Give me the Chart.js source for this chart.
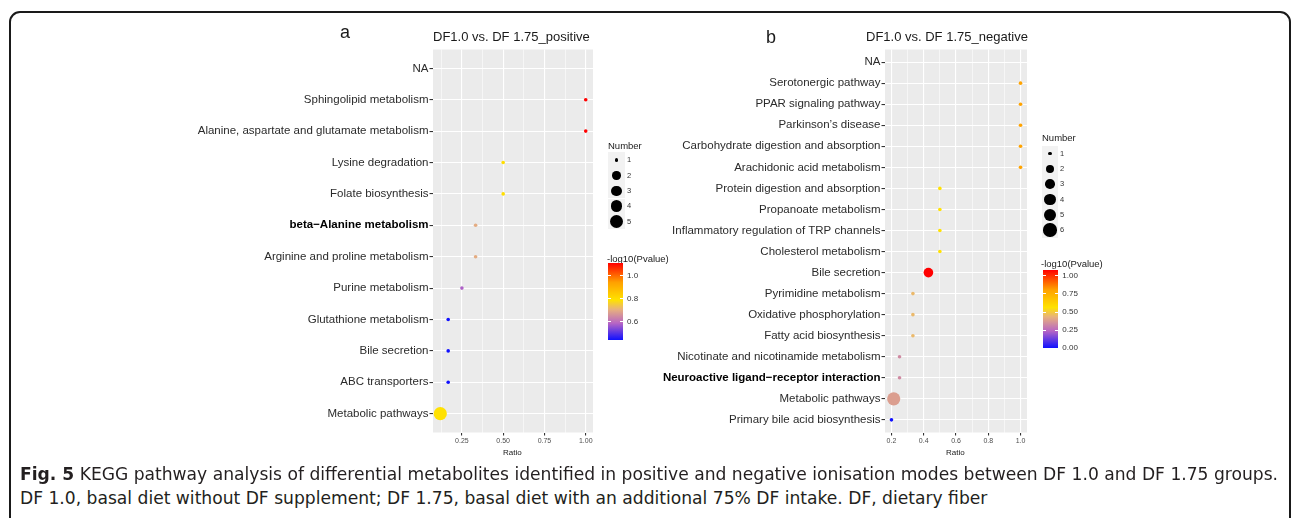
<!DOCTYPE html>
<html lang="en">
<head>
<meta charset="UTF-8">
<meta name="viewport" content="width=device-width, initial-scale=1.0">
<title>Fig. 5 KEGG pathway analysis</title>
<script src="https://cdn.jsdelivr.net/npm/chart.js"></script>
<style>
  body { margin: 0; background: #fff; font-family: "Liberation Sans", Arial, sans-serif; }
  .page { position: relative; width: 1292px; height: 518px; overflow: hidden; }
  .frame { position: absolute; left: 9px; top: 11px; width: 1278px; height: 640px; border: 2px solid #1a1a1a; border-radius: 11px; }
  .panel { position: absolute; top: 0; }
  .t { position: absolute; white-space: nowrap; line-height: 1; color: #1a1a1a; }
  .key { position: absolute; background: #f2f2f2; }
  .dot { position: absolute; background: #000; border-radius: 50%; }
  .bar { position: absolute; }
  .tick { position: absolute; height: 1px; background: #fff; }
  .caption { position: absolute; left: 20px; white-space: nowrap; font-size: 17px; line-height: 1; color: #231f20;
             transform-origin: 0 0; font-family: "Liberation Sans Narrow", "DejaVu Sans Condensed", "Liberation Sans", sans-serif; }
</style>
</head>
<body>
<div class="page" id="page">
  <div class="frame"></div>
  <canvas class="panel" id="chartPos" width="646" height="470" style="left:0"></canvas>
  <canvas class="panel" id="chartNeg" width="646" height="470" style="left:646px"></canvas>

  <div class="t" style="left:340px; top:23px; font-size:18px">a</div>
  <div class="t" style="left:433px; top:29.5px; font-size:13px">DF1.0 vs. DF 1.75_positive</div>
  <div class="t" style="left:766px; top:27.5px; font-size:18px">b</div>
  <div class="t" style="left:866px; top:29.5px; font-size:13px">DF1.0 vs. DF 1.75_negative</div>

  <div class="caption" id="cap1" style="top:465.5px"><b>Fig. 5</b> KEGG pathway analysis of differential metabolites identified in positive and negative ionisation modes between DF 1.0 and DF 1.75 groups.</div>
  <div class="caption" id="cap2" style="top:489.5px">DF 1.0, basal diet without DF supplement; DF 1.75, basal diet with an additional 75% DF intake. DF, dietary fiber</div>
</div>

<script>
// Panel a: positive ionisation mode (top to bottom)
const pathwaysPos = ['NA', 'Sphingolipid metabolism', 'Alanine, aspartate and glutamate metabolism',
    'Lysine degradation', 'Folate biosynthesis', 'beta\u2212Alanine metabolism',
    'Arginine and proline metabolism', 'Purine metabolism', 'Glutathione metabolism',
    'Bile secretion', 'ABC transporters', 'Metabolic pathways'];
const ratioPos  = [null, 1.0, 1.0, 0.5, 0.5, 0.333, 0.333, 0.25, 0.167, 0.167, 0.167, 0.119];
const numberPos = [null, 1, 1, 1, 1, 1, 1, 1, 1, 1, 1, 5];
const logPPos   = [null, 1.116, 1.116, 0.80, 0.80, 0.70, 0.70, 0.58, 0.44, 0.44, 0.44, 0.79];
const boldPos   = ['beta\u2212Alanine metabolism'];
const ratioTicksPos = [0.25, 0.5, 0.75, 1.0];
const pTicksPos = [0.6, 0.8, 1.0];

// Panel b: negative ionisation mode (top to bottom)
const pathwaysNeg = ['NA', 'Serotonergic pathway', 'PPAR signaling pathway', 'Parkinson\u2019s disease',
    'Carbohydrate digestion and absorption', 'Arachidonic acid metabolism',
    'Protein digestion and absorption', 'Propanoate metabolism',
    'Inflammatory regulation of TRP channels', 'Cholesterol metabolism', 'Bile secretion',
    'Pyrimidine metabolism', 'Oxidative phosphorylation', 'Fatty acid biosynthesis',
    'Nicotinate and nicotinamide metabolism', 'Neuroactive ligand\u2212receptor interaction',
    'Metabolic pathways', 'Primary bile acid biosynthesis'];
const ratioNeg  = [null, 1, 1, 1, 1, 1, 0.5, 0.5, 0.5, 0.5, 0.429, 0.333, 0.333, 0.333, 0.25, 0.25, 0.214, 0.2];
const numberNeg = [null, 1, 1, 1, 1, 1, 1, 1, 1, 1, 3, 1, 1, 1, 1, 1, 6, 1];
const logPNeg   = [null, 0.80, 0.80, 0.80, 0.80, 0.80, 0.56, 0.56, 0.56, 0.56, 1.08, 0.45, 0.45, 0.45, 0.33, 0.33, 0.38, 0.0];
const boldNeg   = ['Neuroactive ligand\u2212receptor interaction'];
const ratioTicksNeg = [0.2, 0.4, 0.6, 0.8, 1.0];
const pTicksNeg = [0, 0.25, 0.5, 0.75, 1.0];

// colour gradient used for -log10(Pvalue)
const gradStops = [[0, '#1010ff'], [0.22, '#b866c4'], [0.4, '#e8b27c'], [0.52, '#ffe200'], [0.75, '#ffa000'], [1, '#ff0000']];

function hexToRgb(h) { return [1, 3, 5].map(i => parseInt(h.substr(i, 2), 16)); }
function gradColor(f) {
    f = Math.max(0, Math.min(1, f));
    for (let i = 1; i < gradStops.length; i++) {
        const [f0, c0] = gradStops[i - 1], [f1, c1] = gradStops[i];
        if (f <= f1) {
            const t = (f - f0) / (f1 - f0), a = hexToRgb(c0), b = hexToRgb(c1);
            return 'rgb(' + a.map((v, k) => Math.round(v + (b[k] - v) * t)).join(',') + ')';
        }
    }
    return gradStops[gradStops.length - 1][1];
}
function sizeFor(n, maxN) { return 1.8 + 4.8 * Math.sqrt((n - 1) / (maxN - 1)); }
const clean = arr => arr.filter(v => v != null);

const bgPlugin = {
    id: 'panelBg',
    beforeDraw(chart) {
        const { ctx, chartArea: a } = chart;
        ctx.save();
        ctx.fillStyle = '#ebebeb';
        ctx.fillRect(a.left, a.top, a.right - a.left, a.bottom - a.top);
        ctx.restore();
    }
};

function makePanel(id, cats, ratio, number, logp, bold, majors, decimals, g) {
    const maxN = Math.max(...clean(number));
    const pLo = Math.min(...clean(logp)), pHi = Math.max(...clean(logp));
    const rLo = Math.min(...clean(ratio)), rHi = Math.max(...clean(ratio));
    const xMin = rLo - (rHi - rLo) * 0.05, xMax = rHi + (rHi - rLo) * 0.05;
    const half = (majors[1] - majors[0]) / 2;
    const xTicks = [];
    for (let v = majors[0] - half; v <= majors[majors.length - 1] + 1e-9; v += half) {
        if (v >= xMin && v <= xMax) xTicks.push(+v.toFixed(4));
    }
    const isMajor = v => majors.some(m => Math.abs(m - v) < 1e-6);
    const tickMajor = c => !!c.tick && isMajor(c.tick.value);
    const tickBold = c => !!c.tick && bold.includes(cats[c.tick.value]);
    const yMax = cats.length - 1;

    const points = [];
    cats.forEach((c, i) => {
        if (ratio[i] == null) return;
        points.push({ x: ratio[i], y: i, r: sizeFor(number[i], maxN), p: logp[i] });
    });
    // draw large ones first so small ones stay on top
    points.sort((a, b) => b.r - a.r);

    new Chart(document.getElementById(id), {
        type: 'bubble',
        data: {
            datasets: [{
                data: points,
                backgroundColor: ctx => ctx.raw ? gradColor((ctx.raw.p - pLo) / (pHi - pLo)) : '#000',
                borderWidth: 0,
                hoverBorderWidth: 0,
                clip: false
            }]
        },
        options: {
            responsive: false,
            animation: false,
            events: [],
            layout: { padding: { left: 0, top: g.top, right: g.right, bottom: g.bottom } },
            plugins: { legend: { display: false }, tooltip: { enabled: false } },
            scales: {
                x: {
                    type: 'linear',
                    min: xMin, max: xMax,
                    afterBuildTicks: s => { s.ticks = xTicks.map(v => ({ value: v })); },
                    afterFit: s => { s.height = 30; },
                    border: { display: false },
                    grid: {
                        color: '#ffffff',
                        lineWidth: c => tickMajor(c) ? 1.1 : 0.55,
                        tickColor: c => tickMajor(c) ? '#333333' : 'rgba(0,0,0,0)',
                        tickLength: 3
                    },
                    ticks: {
                        autoSkip: false, maxRotation: 0, padding: 1,
                        color: '#4d4d4d',
                        font: { family: 'Liberation Sans', size: 7 },
                        callback: v => isMajor(v) ? v.toFixed(decimals) : ''
                    }
                },
                y: {
                    type: 'linear',
                    reverse: true,
                    min: -0.6, max: yMax + 0.6,
                    afterBuildTicks: s => { s.ticks = cats.map((c, i) => ({ value: i })); },
                    afterFit: s => { s.width = g.plotLeft; },
                    border: { display: false },
                    grid: { color: '#ffffff', lineWidth: 1.1, tickColor: '#333333', tickLength: 3.5 },
                    ticks: {
                        autoSkip: false, padding: 1,
                        color: c => tickBold(c) ? '#000000' : '#2b2b2b',
                        font: c => ({
                            family: 'Liberation Sans', size: 11.5,
                            weight: tickBold(c) ? 'bold' : 'normal'
                        }),
                        callback: v => cats[v]
                    }
                }
            }
        },
        plugins: [bgPlugin]
    });

    return { maxN, pLo, pHi };
}

function addText(txt, x, y, size, color) {
    const d = document.createElement('div');
    d.className = 't';
    d.textContent = txt;
    d.style.left = x + 'px';
    d.style.top = y + 'px';
    d.style.fontSize = size + 'px';
    if (color) d.style.color = color;
    document.getElementById('page').appendChild(d);
    return d;
}
function addBox(cls, x, y, w, h, bg) {
    const d = document.createElement('div');
    d.className = cls;
    Object.assign(d.style, { left: x + 'px', top: y + 'px', width: w + 'px', height: h + 'px' });
    if (bg) d.style.background = bg;
    document.getElementById('page').appendChild(d);
    return d;
}

function buildLegend(info, pTicks, decimals, L) {
    // size legend
    addText('Number', L.x, L.numTop, 9.5);
    for (let n = 1; n <= info.maxN; n++) {
        const cy = L.keyY + (n - 1) * L.keyStep;
        addBox('key', L.x, cy - L.keyStep / 2, L.keyW, L.keyStep);
        const r = sizeFor(n, info.maxN);
        addBox('dot', L.x + L.keyW / 2 - r, cy - r, 2 * r, 2 * r);
        addText(String(n), L.x + L.keyW + 2, cy - 3.8, 7.5, '#333');
    }
    // colour bar
    addText('-log10(Pvalue)', L.x - 1, L.cbTitle, 9.5);
    const grad = gradStops.map(([f, c]) => c + ' ' + (f * 100) + '%').join(',');
    addBox('bar', L.barX, L.barTop, L.barW, L.barH, 'linear-gradient(to top,' + grad + ')');
    pTicks.forEach(v => {
        const y = L.barTop + L.barH - (v - info.pLo) / (info.pHi - info.pLo) * L.barH;
        addBox('tick', L.barX, y - 0.5, 3, 1);
        addBox('tick', L.barX + L.barW - 3, y - 0.5, 3, 1);
        addText(v.toFixed(decimals), L.barX + L.barW + 4, y - 4, 8, '#333');
    });
}

const infoPos = makePanel('chartPos', pathwaysPos, ratioPos, numberPos, logPPos, boldPos, ratioTicksPos, 2,
    { plotLeft: 433, top: 49.5, right: 646 - 593, bottom: 470 - 432.5 - 30 });
const infoNeg = makePanel('chartNeg', pathwaysNeg, ratioNeg, numberNeg, logPNeg, boldNeg, ratioTicksNeg, 1,
    { plotLeft: 885 - 646, top: 49.5, right: 646 - (1027 - 646), bottom: 470 - 432.5 - 30 });

addText('Ratio', 503, 449, 8, '#1a1a1a');
addText('Ratio', 946, 449, 8, '#1a1a1a');

buildLegend(infoPos, pTicksPos, 1, { x: 608, numTop: 141, keyY: 160, keyStep: 15.4, keyW: 17,
    cbTitle: 253.5, barX: 608, barTop: 262.7, barW: 15, barH: 77.3 });
buildLegend(infoNeg, pTicksNeg, 2, { x: 1042, numTop: 132.6, keyY: 153.3, keyStep: 15.35, keyW: 16,
    cbTitle: 259.3, barX: 1042.7, barTop: 270, barW: 15.6, barH: 78.3 });

// squeeze caption to the width of the original condensed face
const cap1 = document.getElementById('cap1'), cap2 = document.getElementById('cap2');
const k = 1258 / cap1.getBoundingClientRect().width;
cap1.style.transform = 'scaleX(' + k + ')';
cap2.style.transform = 'scaleX(' + k + ')';
</script>
</body>
</html>
